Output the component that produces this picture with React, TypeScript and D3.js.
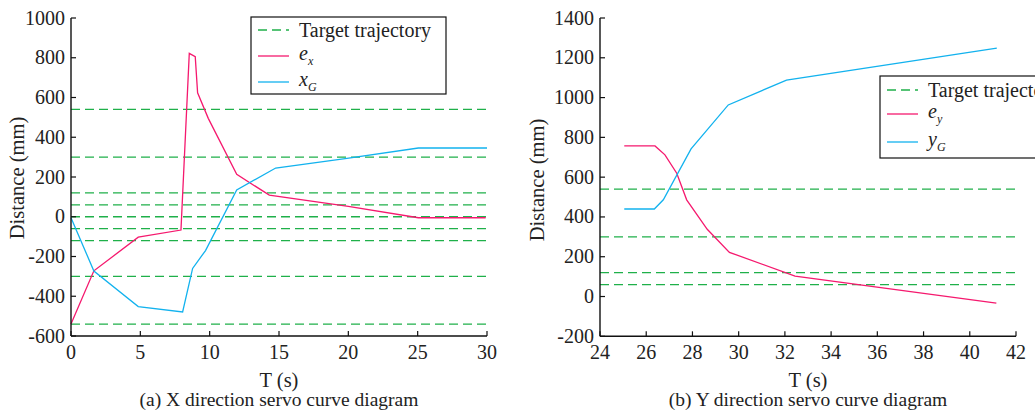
import React from "react";
import * as d3 from "d3";

const targetLevelsX = [540, 300, 120, 60, 0, -60, -120, -300, -540];
const targetLevelsY = [540, 300, 120, 60];

const exT = [0, 1.65, 4.85, 7.93, 8.53, 8.96, 9.13, 9.9, 11.95, 14.3, 20, 25.05, 29.9];
const exV = [-540, -272, -103, -67, 822, 805, 624, 495, 213, 109, 52, -5, -5];
const xgT = [0, 1.65, 4.85, 8.05, 8.77, 9.7, 11.95, 14.76, 19.9, 25.05, 30];
const xgV = [-5, -273, -452, -479, -260, -170, 135, 245, 294, 346, 346];

const eyT = [25.05, 26.38, 26.81, 27.32, 27.75, 28.64, 29.6, 32.44, 41.15];
const eyV = [757, 757, 712, 620, 486, 338, 222, 103, -33];
const ygT = [25.05, 26.35, 26.74, 27.94, 29.55, 32.07, 41.17];
const ygV = [440, 440, 486, 742, 963, 1088, 1249];

const xTicksA = [0, 5, 10, 15, 20, 25, 30];
const yTicksA = [-600, -400, -200, 0, 200, 400, 600, 800, 1000];
const xTicksB = [24, 26, 28, 30, 32, 34, 36, 38, 40, 42];
const yTicksB = [-200, 0, 200, 400, 600, 800, 1000, 1200, 1400];

const PINK = "#f5196e";
const BLUE = "#12b2ee";
const GREEN = "#1fb04a";
const FONT = "Liberation Serif, DejaVu Serif, serif";

type PanelProps = {
  xDomain: [number, number];
  xRange: [number, number];
  yDomain: [number, number];
  yRange: [number, number];
  xTicks: number[];
  yTicks: number[];
  targets: number[];
  s1: { t: number[]; v: number[] };
  s2: { t: number[]; v: number[] };
  yLabelX: number;
  yLabelY: number;
  caption: string;
  legend: { x: number; y: number; w: number; h: number; rows: number[]; sub1: [string, string]; sub2: [string, string] };
};

function Panel(p: PanelProps) {
  const x = d3.scaleLinear().domain(p.xDomain).range(p.xRange);
  const y = d3.scaleLinear().domain(p.yDomain).range(p.yRange);
  const line = d3
    .line<[number, number]>()
    .x((d) => x(d[0]))
    .y((d) => y(d[1]));
  const pts = (s: { t: number[]; v: number[] }) => s.t.map((t, i) => [t, s.v[i]] as [number, number]);
  const [x0, x1] = p.xRange;
  const yb = p.yRange[0];
  const cx = (x0 + x1) / 2;
  const lg = p.legend;
  const lx0 = lg.x + 7;
  const lx1 = lg.x + 38;
  const tx = lg.x + 48;
  const ts = { fontFamily: FONT } as React.CSSProperties;
  return (
    <g style={ts} fill="#222">
      {p.targets.map((v) => (
        <line key={v} x1={x0} x2={x1} y1={y(v)} y2={y(v)} stroke={GREEN} strokeWidth={1.3} strokeDasharray="9,5" />
      ))}
      <path d={line(pts(p.s1)) || ""} fill="none" stroke={PINK} strokeWidth={1.3} />
      <path d={line(pts(p.s2)) || ""} fill="none" stroke={BLUE} strokeWidth={1.3} />
      <line x1={x0} x2={x1} y1={yb} y2={yb} stroke="#111" strokeWidth={1.4} />
      <line x1={x0} x2={x0} y1={p.yRange[0]} y2={p.yRange[1]} stroke="#111" strokeWidth={1.4} />
      {p.xTicks.map((t) => (
        <g key={"xt" + t}>
          <line x1={x(t)} x2={x(t)} y1={yb} y2={yb - 5} stroke="#111" strokeWidth={1.2} />
          <text x={x(t)} y={359} textAnchor="middle" fontSize={20} style={ts}>
            {t}
          </text>
        </g>
      ))}
      {p.yTicks.map((t) => (
        <g key={"yt" + t}>
          <line x1={x0} x2={x0 + 5} y1={y(t)} y2={y(t)} stroke="#111" strokeWidth={1.2} />
          <text x={x0 - 6} y={y(t) + 6.5} textAnchor="end" fontSize={20} style={ts}>
            {t}
          </text>
        </g>
      ))}
      <text x={cx} y={387} textAnchor="middle" fontSize={20.5} style={ts}>
        T (s)
      </text>
      <text
        transform={`translate(${p.yLabelX},${p.yLabelY}) rotate(-90)`}
        textAnchor="middle"
        fontSize={20.5}
        style={ts}
      >
        Distance (mm)
      </text>
      <text x={cx} y={406} textAnchor="middle" fontSize={19.5} style={ts}>
        {p.caption}
      </text>
      <rect x={lg.x} y={lg.y} width={lg.w} height={lg.h} fill="#fff" stroke="#111" strokeWidth={1.2} />
      <line x1={lx0} x2={lx1} y1={lg.rows[0]} y2={lg.rows[0]} stroke={GREEN} strokeWidth={1.3} strokeDasharray="9,5" />
      <text x={tx} y={lg.rows[0] + 6.5} fontSize={20} style={ts}>
        Target trajectory
      </text>
      <line x1={lx0} x2={lx1} y1={lg.rows[1]} y2={lg.rows[1]} stroke={PINK} strokeWidth={1.3} />
      <text x={tx} y={lg.rows[1] + 4} fontSize={20} fontStyle="italic" style={ts}>
        {lg.sub1[0]}
        <tspan fontSize={12} dy={5}>
          {lg.sub1[1]}
        </tspan>
      </text>
      <line x1={lx0} x2={lx1} y1={lg.rows[2]} y2={lg.rows[2]} stroke={BLUE} strokeWidth={1.3} />
      <text x={tx} y={lg.rows[2] + 4} fontSize={20} fontStyle="italic" style={ts}>
        {lg.sub2[0]}
        <tspan fontSize={12} dy={5}>
          {lg.sub2[1]}
        </tspan>
      </text>
    </g>
  );
}

export default function App() {
  return (
    <svg width={1035} height={416} style={{ position: "absolute", left: 0, top: 0, background: "#fff" }}>
      <rect width={1035} height={416} fill="#fff" />
      <Panel
        xDomain={[0, 30]}
        xRange={[71, 487]}
        yDomain={[-600, 1000]}
        yRange={[336, 18]}
        xTicks={xTicksA}
        yTicks={yTicksA}
        targets={targetLevelsX}
        s1={{ t: exT, v: exV }}
        s2={{ t: xgT, v: xgV }}
        yLabelX={24}
        yLabelY={178}
        caption="(a) X direction servo curve diagram"
        legend={{ x: 251, y: 17, w: 195, h: 77, rows: [30, 56, 82], sub1: ["e", "x"], sub2: ["x", "G"] }}
      />
      <Panel
        xDomain={[24, 42]}
        xRange={[600, 1016]}
        yDomain={[-200, 1400]}
        yRange={[336.3, 18]}
        xTicks={xTicksB}
        yTicks={yTicksB}
        targets={targetLevelsY}
        s1={{ t: eyT, v: eyV }}
        s2={{ t: ygT, v: ygV }}
        yLabelX={544}
        yLabelY={180}
        caption="(b) Y direction servo curve diagram"
        legend={{ x: 880, y: 76, w: 195, h: 82, rows: [90, 114, 142], sub1: ["e", "y"], sub2: ["y", "G"] }}
      />
    </svg>
  );
}
